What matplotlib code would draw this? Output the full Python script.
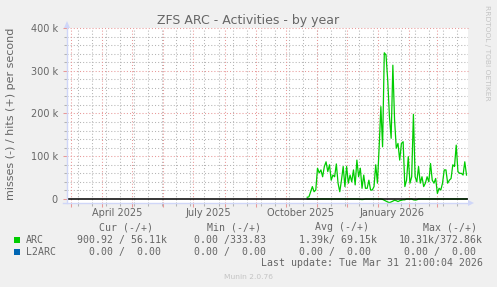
import datetime as dt
import matplotlib
matplotlib.use('Agg')
import matplotlib.pyplot as plt
import matplotlib.patches as mpatches
import numpy as np
import pandas as pd

title = 'ZFS ARC - Activities - by year'
ylabel = 'misses (-) / hits (+) per second'

# hits (+) and misses (-) in thousands per second, sampled every 41 hours
hits_k = [4, 5, 17, 29, 17, 21, 72, 61, 68, 52, 76, 87, 64, 80, 44, 56, 52, 82, 37, 17,
          44, 76, 29, 76, 37, 56, 40, 68, 33, 91, 52, 72, 25, 56, 25, 25, 44, 21, 21, 29,
          80, 37, 122, 216, 122, 342, 337, 278, 193, 142, 313, 185, 119, 130, 91, 130, 134, 29, 44, 99,
          37, 52, 198, 52, 40, 76, 37, 52, 29, 37, 52, 40, 83, 44, 37, 48, 13, 25, 21, 37,
          68, 68, 37, 44, 48, 80, 76, 126, 64, 60, 60, 56, 87, 56]
misses_k = [0] * 31 + [-1, -1.5, -1] + [0] * 10 + \
           [-1, -3, -5, -7, -8.5, -7, -5, -3, -4, -6, -4, -3, -2, -2] + [0] * 4 + \
           [-2, -2.5, -2] + [0] * 29
sample_start = '2025-10-22 12:00'
sample_step = '41h'

view_end = dt.datetime(2026, 3, 31, 21, 0)
view_start = view_end - dt.timedelta(days=400)

y_ticks = [0, 100e3, 200e3, 300e3, 400e3]
y_tick_labels = ['0', '100 k', '200 k', '300 k', '400 k']
month_labels = ['April 2025', 'July 2025', 'October 2025', 'January 2026']
month_label_dates = ['2025-04-15 12:00', '2025-07-15 12:00', '2025-10-15 12:00', '2026-01-15 00:00']

legend_heads = ['Cur (-/+)', 'Min (-/+)', 'Avg (-/+)', 'Max (-/+)']
arc_vals = ['900.92 / 56.11k', '0.00 /333.83', '1.39k/ 69.15k', '10.31k/372.86k']
l2arc_vals = ['0.00 /  0.00', '0.00 /  0.00', '0.00 /  0.00', '0.00 /  0.00']
last_update = 'Last update: Tue Mar 31 21:00:04 2026'
version = 'Munin 2.0.76'

FONT = '#666666'
GRID = '#B4B4B4'
MGRID = '#E89898'
AXIS = '#CFD6F8'
W, H = 497, 287

fig = plt.figure(figsize=(W / 100, H / 100), dpi=100, facecolor='#F0F0F0')
ax = fig.add_axes([67 / W, 1 - 203 / H, (468 - 67) / W, (203 - 28) / H])
ax.set_facecolor('white')

times = pd.date_range(sample_start, periods=len(hits_k), freq=sample_step)
hits = np.array(hits_k) * 1000
misses = np.array(misses_k) * 1000

# grid
dots = (0, (1, 2))
for v in np.arange(20e3, 400e3, 20e3):
    if v % 100e3:
        ax.axhline(v, color=GRID, lw=0.75, ls=dots, zorder=1)
for v in y_ticks[1:]:
    ax.axhline(v, color=MGRID, lw=0.75, ls=dots, zorder=1, clip_on=False)
months = pd.date_range('2025-03-01', '2026-03-01', freq='MS')
biweeks = pd.date_range('2025-03-08', '2026-03-31', freq='14D')
for d in biweeks:
    ax.axvline(d, color=GRID, lw=0.75, ls=dots, zorder=1)
for d in months:
    ax.axvline(d, color=MGRID, lw=0.75, ls=dots, zorder=1)

ax.plot(times, hits, color='#00CC00', lw=0.9, zorder=3)
ax.plot(times, misses, color='#00CC00', lw=0.9, zorder=3)
ax.axhline(0, color='black', lw=1.1, zorder=4)

ax.set_xlim(view_start, view_end)
ax.set_ylim(-9.4e3, 400e3)

ax.set_yticks(y_ticks, y_tick_labels)
ax.set_yticks(np.arange(20e3, 400e3, 20e3), minor=True)
ax.tick_params(axis='y', which='major', length=3, width=0.75, color=MGRID,
               labelsize=7, labelcolor=FONT, pad=3.6)
ax.tick_params(axis='y', which='minor', length=2, width=0.75, color=GRID)
ax.set_xticks(months, [''] * len(months))
ax.set_xticks(biweeks, minor=True)
ax.tick_params(axis='x', which='major', length=3, width=0.75, color=MGRID)
ax.tick_params(axis='x', which='minor', length=2, width=0.75, color=GRID)
ax.xaxis.set_minor_formatter(plt.NullFormatter())

for lab, d in zip(month_labels, month_label_dates):
    ax.text(pd.Timestamp(d), -0.03, lab, transform=ax.get_xaxis_transform(),
            ha='center', va='top', fontsize=7, color=FONT)

for s in ax.spines.values():
    s.set_visible(False)

# overlay in pixel coordinates for axis arrows and text
ov = fig.add_axes([0, 0, 1, 1])
ov.set_xlim(0, W)
ov.set_ylim(H, 0)
ov.set_axis_off()
ov.patch.set_alpha(0)

ov.plot([67, 67], [203, 27], color=AXIS, lw=1)
ov.plot([63, 469], [203, 203], color=AXIS, lw=1)
ov.add_patch(mpatches.Polygon([[64, 28], [70, 28], [67, 21]], color=AXIS, lw=0))
ov.add_patch(mpatches.Polygon([[468, 200], [468, 206], [474, 203]], color=AXIS, lw=0))

ov.text(W / 2, 24, title, ha='center', va='baseline', fontsize=9, color=FONT)
ov.text(11.5, 113.5, ylabel, ha='center', va='center', rotation=90, fontsize=8, color=FONT)
ov.text(487.5, 5, 'RRDTOOL / TOBI OETIKER', ha='center', va='top', rotation=270,
        fontsize=5.4, color='#C4C4C4')

mono = dict(family='DejaVu Sans Mono', fontsize=7.1, color=FONT, va='baseline')
for lab, x in zip(legend_heads, [99, 206.7, 315, 422.7]):
    ov.text(x, 230.5, lab, **mono)
ov.add_patch(mpatches.Rectangle((14, 237), 6, 6, color='#00CC00', lw=0))
ov.add_patch(mpatches.Rectangle((14, 249), 6, 6, color='#0066B3', lw=0))
ov.text(26, 242.7, 'ARC', **mono)
ov.text(26, 255, 'L2ARC', **mono)
for lab, x in zip(arc_vals, [77.3, 194.3, 299.3, 399]):
    ov.text(x, 242.7, lab, **mono)
for lab, x in zip(l2arc_vals, [89, 194.3, 299.3, 404.3]):
    ov.text(x, 255, lab, **mono)
ov.text(483, 266.3, last_update, ha='right', **mono)
ov.text(W / 2, 279.3, version, ha='center', va='baseline', fontsize=5.4, color='#C4C4C4')

fig.savefig('out.png', dpi=100, facecolor=fig.get_facecolor())
